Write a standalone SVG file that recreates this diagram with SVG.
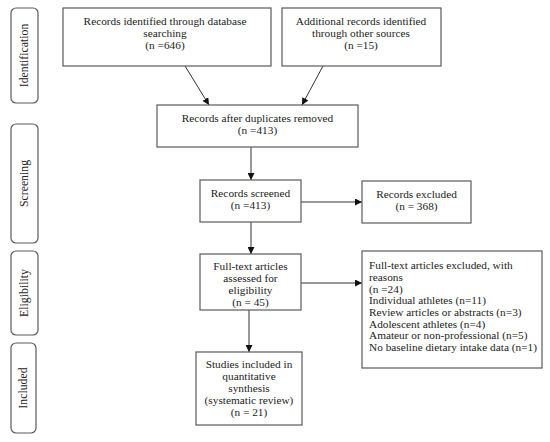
<svg xmlns="http://www.w3.org/2000/svg" width="550" height="442" viewBox="0 0 550 442">
<style>
.box{fill:#fff;stroke:#5a5a5a;stroke-width:1.2}
.side{fill:#fff;stroke:#5a5a5a;stroke-width:1.2}
text{font-family:"Liberation Serif","Times New Roman",serif;font-size:11.3px;fill:#222}
.c{text-anchor:middle}
.ln{stroke:#333;stroke-width:1;fill:none;marker-end:url(#ah)}
</style>
<defs>
<marker id="ah" viewBox="0 0 10 10" refX="10" refY="5" markerWidth="7" markerHeight="7" orient="auto" markerUnits="userSpaceOnUse">
<path d="M0,0 L10,5 L0,10 z" fill="#111"/>
</marker>
</defs>
<rect width="550" height="442" fill="#fff"/>
<g id="side-identification"><rect class="side" x="11" y="8" width="27" height="95" rx="5"/><text class="c" style="font-size:11.8px" transform="translate(28,55.5) rotate(-90)">Identification</text></g>
<g id="side-screening"><rect class="side" x="11" y="124" width="27" height="119" rx="5"/><text class="c" style="font-size:11.8px" transform="translate(28,183.5) rotate(-90)">Screening</text></g>
<g id="side-eligibility"><rect class="side" x="11" y="251" width="27" height="84" rx="5"/><text class="c" style="font-size:11.8px" transform="translate(28,293) rotate(-90)">Eligibility</text></g>
<g id="side-included"><rect class="side" x="11" y="343" width="25" height="90" rx="5"/><text class="c" style="font-size:11.8px" transform="translate(27,388) rotate(-90)">Included</text></g>

<g id="connectors">
<line class="ln" x1="185" y1="66" x2="209" y2="105"/>
<line class="ln" x1="323" y1="66" x2="302" y2="105"/>
<line class="ln" x1="251" y1="147" x2="251" y2="180"/>
<line class="ln" x1="251" y1="222" x2="251" y2="254"/>
<line class="ln" x1="249" y1="310" x2="249" y2="352"/>
<line class="ln" x1="301" y1="202" x2="362" y2="202"/>
<line class="ln" x1="301" y1="283" x2="362" y2="283"/>
</g>

<g id="n-db"><rect class="box" x="63" y="8" width="208" height="58"/>
<text class="c" x="165" y="25">Records identified through database</text>
<text class="c" x="165" y="37">searching</text>
<text class="c" x="165" y="49">(n =646)</text></g>
<g id="n-other"><rect class="box" x="282" y="8" width="159" height="58"/>
<text class="c" x="361" y="25">Additional records identified</text>
<text class="c" x="361" y="37">through other sources</text>
<text class="c" x="361" y="49">(n =15)</text></g>
<g id="n-dup"><rect class="box" x="157" y="105" width="201" height="42"/>
<text class="c" x="257.5" y="122">Records after duplicates removed</text>
<text class="c" x="257.5" y="134">(n =413)</text></g>
<g id="n-screened"><rect class="box" x="200" y="180" width="101" height="42"/>
<text class="c" x="250.5" y="197">Records screened</text>
<text class="c" x="250.5" y="209">(n =413)</text></g>
<g id="n-excl"><rect class="box" x="362" y="181" width="109" height="42"/>
<text class="c" x="416.5" y="198">Records excluded</text>
<text class="c" x="416.5" y="210">(n = 368)</text></g>
<g id="n-full"><rect class="box" x="200" y="254" width="101" height="56"/>
<text class="c" x="250.5" y="270">Full-text articles</text>
<text class="c" x="250.5" y="282">assessed for</text>
<text class="c" x="250.5" y="294">eligibility</text>
<text class="c" x="250.5" y="306">(n = 45)</text></g>
<g id="n-fullexcl"><rect class="box" x="362" y="251" width="180" height="117"/>
<text x="369" y="269">Full-text articles excluded, with</text>
<text x="369" y="281">reasons</text>
<text x="369" y="292.5">(n =24)</text>
<text x="369" y="304">Individual athletes (n=11)</text>
<text x="369" y="316">Review articles or abstracts (n=3)</text>
<text x="369" y="327.5">Adolescent athletes (n=4)</text>
<text x="369" y="339">Amateur or non-professional (n=5)</text>
<text x="369" y="351">No baseline dietary intake data (n=1)</text></g>
<g id="n-incl"><rect class="box" x="196" y="352" width="106" height="73"/>
<text class="c" x="249" y="368">Studies included in</text>
<text class="c" x="249" y="380">quantitative</text>
<text class="c" x="249" y="392">synthesis</text>
<text class="c" x="249" y="404">(systematic review)</text>
<text class="c" x="249" y="416">(n = 21)</text></g>
</svg>
